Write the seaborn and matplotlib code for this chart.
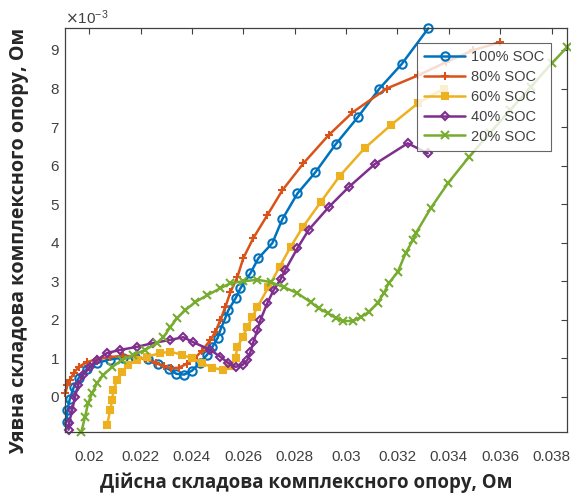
import numpy as np
import pandas as pd
import matplotlib
matplotlib.use("Agg")
import matplotlib.pyplot as plt
from matplotlib.ticker import ScalarFormatter
import seaborn as sns

# Nyquist data: real part (Ohm), imaginary part (x1e-3 Ohm)
x100 = [0.01912, 0.01915, 0.01925, 0.0194, 0.0196, 0.0199, 0.0203, 0.0208, 0.0213, 0.0218,
        0.0223, 0.0227, 0.0231, 0.0234, 0.0237, 0.0240, 0.0243, 0.0246, 0.0248, 0.0250,
        0.02511, 0.0253, 0.02542, 0.0257, 0.02589, 0.02628, 0.02659, 0.02713, 0.02752, 0.02811,
        0.02881, 0.02959, 0.03045, 0.0313, 0.03216, 0.0332]
y100 = [-0.65, -0.35, -0.05, 0.25, 0.5, 0.72, 0.88, 0.97, 1.02, 1.04,
        0.98, 0.86, 0.72, 0.6, 0.58, 0.68, 0.88, 1.1, 1.3, 1.53,
        1.74, 2.05, 2.25, 2.56, 2.82, 3.21, 3.6, 3.99, 4.61, 5.28,
        5.83, 6.55, 7.25, 8.0, 8.63, 9.56]

x80 = [0.01908, 0.01915, 0.01926, 0.0194, 0.0196, 0.0199, 0.0203, 0.0208, 0.0213, 0.0218,
       0.0222, 0.0226, 0.0229, 0.0232, 0.0235, 0.0238, 0.0241, 0.0244, 0.02472, 0.02491,
       0.02511, 0.0253, 0.0255, 0.02577, 0.026, 0.02639, 0.02694, 0.02752, 0.02834, 0.02932,
       0.03025, 0.03158, 0.0328, 0.03388, 0.03493, 0.03598]
y80 = [0.1, 0.3, 0.45, 0.62, 0.78, 0.9, 0.98, 1.03, 1.07, 1.05,
       0.98, 0.88, 0.8, 0.74, 0.76, 0.86, 1.0, 1.2, 1.48, 1.68,
       2.0, 2.33, 2.72, 3.11, 3.6, 4.12, 4.72, 5.36, 6.06, 6.79,
       7.38, 8.0, 8.34, 8.68, 8.99, 9.2]

x60 = [0.0207, 0.02082, 0.0209, 0.02094, 0.0211, 0.02129, 0.02152, 0.02187, 0.02226, 0.02277,
       0.02316, 0.0236, 0.024, 0.0244, 0.0248, 0.0252, 0.0255, 0.0257, 0.02577, 0.02597,
       0.02616, 0.02635, 0.02655, 0.02698, 0.02741, 0.02784, 0.02831, 0.02901, 0.02975, 0.03072,
       0.03174, 0.0328, 0.0338]
y60 = [-0.73, -0.34, -0.08, 0.18, 0.44, 0.65, 0.83, 0.96, 1.04, 1.14,
       1.17, 1.1, 1.0, 0.88, 0.76, 0.7, 0.8, 1.0, 1.3, 1.55,
       1.81, 2.07, 2.33, 2.85, 3.37, 3.89, 4.4, 5.05, 5.73, 6.45,
       7.05, 7.62, 8.0]

x40 = [0.0192, 0.01922, 0.01934, 0.01945, 0.01957, 0.01977, 0.02004, 0.02031, 0.0207, 0.02121,
       0.02187, 0.0225, 0.02316, 0.02367, 0.02405, 0.02472, 0.02511, 0.02542, 0.0257, 0.02597,
       0.02616, 0.02628, 0.02639, 0.02655, 0.02667, 0.02694, 0.02718, 0.02745, 0.02764, 0.02811,
       0.02854, 0.02932, 0.0301, 0.03112, 0.0324, 0.03318]
y40 = [-0.85, -0.67, -0.34, 0.0, 0.31, 0.57, 0.78, 0.96, 1.14, 1.22,
       1.3, 1.4, 1.48, 1.55, 1.42, 1.22, 1.04, 0.88, 0.78, 0.83,
       0.96, 1.17, 1.42, 1.74, 2.0, 2.44, 2.77, 3.05, 3.3, 3.86,
       4.33, 4.92, 5.44, 6.04, 6.58, 6.32]

x20 = [0.0197, 0.01984, 0.01996, 0.02012, 0.02031, 0.02055, 0.0209, 0.02129, 0.02172, 0.02218,
       0.02265, 0.02289, 0.02316, 0.02343, 0.02374, 0.02413, 0.0246, 0.02511, 0.0255, 0.026,
       0.02655, 0.02706, 0.02757, 0.02811, 0.02862, 0.02893, 0.02928, 0.02959, 0.0299, 0.03026,
       0.03057, 0.03088, 0.03123, 0.03147, 0.03166, 0.03201, 0.03232, 0.0326, 0.03272, 0.0333,
       0.03396, 0.03478, 0.0356, 0.0364, 0.0372, 0.038, 0.0386]
y20 = [-0.9, -0.52, -0.16, 0.1, 0.36, 0.57, 0.78, 0.96, 1.09, 1.22,
       1.4, 1.55, 1.81, 2.05, 2.25, 2.46, 2.64, 2.82, 2.95, 3.0,
       3.04, 2.98, 2.85, 2.69, 2.46, 2.3, 2.18, 2.05, 1.97, 1.97,
       2.07, 2.2, 2.44, 2.69, 2.95, 3.24, 3.73, 4.07, 4.25, 4.9,
       5.54, 6.22, 6.85, 7.45, 8.05, 8.65, 9.07]

labels = ['100% SOC', '80% SOC', '60% SOC', '40% SOC', '20% SOC']
colors = ['#0072BD', '#D95319', '#EDB120', '#7E2F8E', '#77AC30']
markers = ['o', '+', 's', 'D', 'x']
series = [(x100, y100), (x80, y80), (x60, y60), (x40, y40), (x20, y20)]

sns.set_style("white")
plt.rcParams['font.family'] = ['Liberation Sans', 'DejaVu Sans']

fig = plt.figure(figsize=(5.71, 4.96), dpi=100)
ax = fig.add_axes([0.1138, 0.129, 0.8792, 0.8145])

for (xs, ys), lab, col, mk in zip(series, labels, colors, markers):
    df = pd.DataFrame({'re': xs, 'im': np.array(ys) * 1e-3})
    face = col if mk == 's' else 'none'
    size = 4.5 if mk in ('s', 'D') else 6
    sns.lineplot(data=df, x='re', y='im', sort=False, estimator=None, ax=ax,
                 color=col, lw=1.8, marker=mk, markersize=size,
                 markerfacecolor=face, markeredgecolor=col, markeredgewidth=1.5,
                 label=lab, clip_on=False)

ax.set_xlim(0.01906, 0.0386)
ax.set_ylim(-0.91e-3, 9.57e-3)
ax.set_xticks(np.arange(0.02, 0.0385, 0.002))
ax.set_xticklabels(['0.02', '0.022', '0.024', '0.026', '0.028', '0.03',
                    '0.032', '0.034', '0.036', '0.038'])
ax.set_yticks(np.arange(0, 10) * 1e-3)
fmt = ScalarFormatter(useMathText=True)
fmt.set_powerlimits((-3, -3))
ax.yaxis.set_major_formatter(fmt)
ax.yaxis.get_offset_text().set_fontsize(11)
ax.yaxis.get_offset_text().set_color('#404040')

ax.tick_params(direction='in', length=4, width=0.8, top=True, right=True,
               labelsize=11, colors='#404040', labelcolor='#404040')
ax.tick_params(axis='x', pad=13)
for sp in ax.spines.values():
    sp.set_color('#404040')
    sp.set_linewidth(0.9)

ax.set_xlabel('Дійсна складова комплексного опору, Ом', fontsize=13.4,
              fontweight='bold', family=['Open Sans', 'DejaVu Sans'])
ax.set_ylabel('Уявна складова комплексного опору, Ом', fontsize=14.2,
              fontweight='bold', family=['Open Sans', 'DejaVu Sans'])
ax.xaxis.set_label_coords(0.48, -0.1)
ax.yaxis.set_label_coords(-0.072, 0.473)

leg = ax.legend(loc='upper left', bbox_to_anchor=(0.701, 0.963), borderaxespad=0,
                fontsize=10.5, handlelength=2.8, frameon=True, fancybox=False,
                labelspacing=0.4, borderpad=0.5, handletextpad=0.4)
leg.get_frame().set_edgecolor('#404040')
leg.get_frame().set_linewidth(0.8)
for t in leg.get_texts():
    t.set_color('#404040')

fig.savefig('out.png', dpi=100)
